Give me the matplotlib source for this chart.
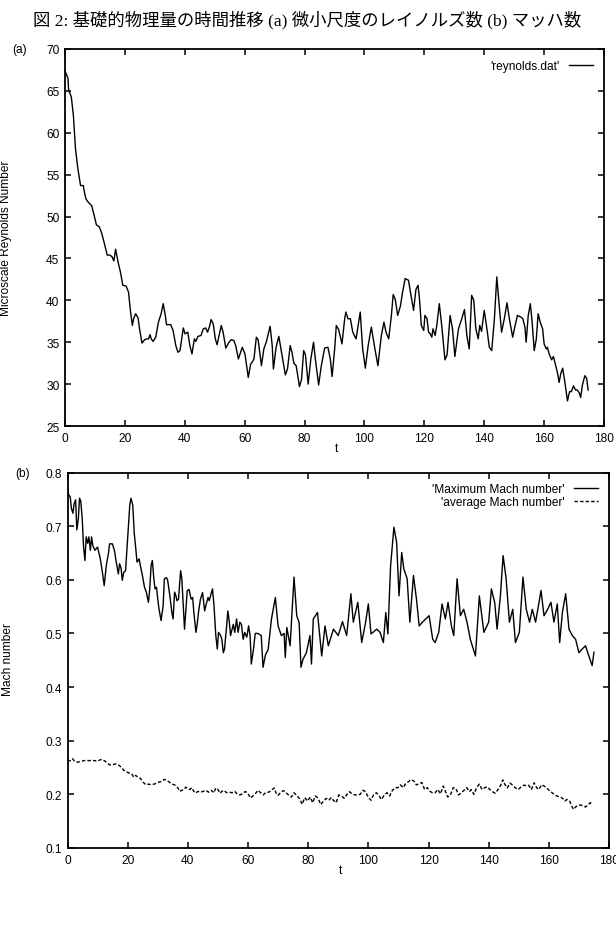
import matplotlib
matplotlib.use("Agg")
import matplotlib.pyplot as plt

# ---- data ----
re_t = [0.0, 1.0, 1.2, 2.1, 2.8, 3.5, 4.3, 5.2, 6.1, 6.5, 7.0, 7.8, 8.9, 9.7, 10.5, 11.4, 12.1,
        13.0, 14.1, 15.0, 15.7, 16.3, 16.9, 17.7, 18.5, 19.3, 20.4, 21.2, 21.9, 22.5, 22.9, 23.6,
        24.4, 24.9, 25.7, 26.6, 27.3, 27.9, 28.4, 28.8, 29.4, 30.3, 31.2, 32.1, 32.8, 33.5, 33.9,
        35.3, 36.1, 37.0, 37.7, 38.4, 39.5, 40.1, 41.0, 41.7, 42.4, 43.2, 43.7, 44.4, 45.4, 46.2,
        47.0, 47.6, 48.2, 48.8, 49.5, 50.2, 50.8, 51.5, 52.2, 52.8, 53.7, 54.6, 55.5, 56.4, 57.0,
        57.9, 59.2, 60.1, 61.2, 62.0, 62.5, 63.1, 63.9, 64.5, 65.6, 66.4, 67.2, 67.6, 68.5, 69.2,
        69.6, 70.5, 71.4, 72.5, 73.6, 74.3, 75.2, 75.8, 76.4, 77.2, 78.3, 79.0, 79.7, 80.3, 81.2,
        82.1, 83.0, 83.6, 84.7, 85.6, 86.7, 87.8, 88.6, 89.2, 90.1, 90.6, 91.4, 92.5, 93.4, 93.8,
        94.5, 95.3, 96.1, 97.2, 97.9, 98.6, 99.4, 100.3, 101.2, 102.3, 103.4, 104.5, 105.6, 106.5,
        107.2, 108.1, 109.0, 109.6, 110.3, 111.1, 112.0, 112.7, 113.6, 114.7, 115.6, 116.4, 117.2,
        117.9, 118.4, 119.0, 119.8, 120.2, 120.9, 121.4, 122.0, 122.5, 122.9, 123.6, 124.2, 125.0,
        125.8, 126.9, 127.6, 128.6, 129.4, 130.2, 131.4, 132.5, 133.4, 134.2, 135.0, 135.8, 136.5,
        137.2, 138.0, 138.5, 139.1, 140.0, 140.9, 141.7, 142.5, 143.4, 144.2, 145.0, 145.8, 146.7,
        147.6, 148.4, 149.5, 150.2, 151.1, 152.2, 152.9, 153.6, 154.0, 154.7, 155.4, 156.0, 156.7,
        157.4, 158.0, 158.7, 159.5, 160.0, 160.7, 161.1, 161.7, 162.5, 163.1, 163.8, 164.5, 165.0,
        165.6, 166.2, 166.9, 167.8, 168.5, 169.1, 169.8, 170.5, 171.1, 171.8, 172.2, 172.8, 173.6,
        174.2, 174.7]
re_val = [67.4, 66.5, 65.1, 64.3, 62.1, 58.1, 55.7, 53.7, 53.7, 52.9, 52.1, 51.7, 51.3, 50.2, 49.0,
          48.8, 48.2, 47.0, 45.4, 45.4, 45.2, 44.7, 46.1, 44.6, 43.4, 41.8, 41.7, 41.0, 38.6, 37.0,
          37.8, 38.4, 37.9, 36.6, 34.9, 35.3, 35.4, 35.4, 35.9, 35.4, 35.1, 35.6, 37.4, 38.4, 39.6,
          38.2, 37.1, 37.1, 36.4, 34.6, 33.8, 34.0, 36.7, 36.0, 36.2, 34.6, 33.6, 35.4, 35.1, 35.7,
          35.8, 36.6, 36.7, 36.2, 36.8, 37.7, 37.2, 35.4, 34.7, 35.9, 37.0, 36.2, 34.3, 34.9, 35.3,
          35.2, 34.6, 33.0, 34.4, 33.6, 30.8, 32.4, 32.6, 33.0, 35.6, 35.3, 32.2, 34.2, 35.0, 35.6,
          36.9, 34.6, 31.8, 34.4, 35.7, 33.4, 31.1, 31.8, 34.6, 33.8, 32.5, 32.2, 29.7, 30.6, 34.0,
          33.5, 30.0, 33.0, 35.0, 33.0, 29.9, 32.2, 34.3, 34.4, 33.0, 30.9, 34.4, 37.0, 36.5, 34.8,
          37.8, 38.6, 37.8, 37.8, 36.2, 35.4, 37.0, 38.6, 34.2, 31.9, 34.5, 36.8, 34.4, 32.2, 35.7,
          37.4, 36.2, 35.4, 38.2, 40.7, 40.1, 38.2, 39.3, 40.9, 42.6, 42.4, 40.5, 38.8, 41.3, 41.8,
          40.1, 37.0, 36.4, 38.2, 37.8, 36.2, 36.0, 35.6, 36.6, 35.8, 37.1, 39.6, 37.0, 32.9, 33.5,
          38.2, 36.6, 33.3, 36.6, 37.8, 38.9, 35.8, 34.2, 40.6, 40.0, 36.6, 35.4, 37.0, 36.3, 38.8,
          36.6, 34.4, 34.0, 37.8, 42.8, 39.4, 36.2, 37.8, 39.7, 37.8, 35.6, 36.8, 38.2, 38.0, 37.8,
          36.8, 35.0, 38.2, 39.6, 37.4, 34.0, 35.4, 38.4, 37.4, 36.6, 34.8, 34.2, 34.4, 33.6, 32.9,
          33.3, 32.3, 31.3, 30.2, 31.3, 31.9, 30.3, 28.0, 29.1, 29.1, 29.8, 29.3, 29.3, 28.9, 28.4,
          29.9, 31.0, 30.7, 29.3]

mmax_t = [0.0, 0.4, 0.9, 1.3, 1.8, 2.2, 2.7, 3.1, 3.6, 4.0, 4.4, 4.9, 5.3, 5.8, 6.2, 6.7, 7.1, 7.6,
          8.0, 8.4, 9.1, 10.0, 10.9, 11.6, 12.2, 12.9, 13.6, 14.0, 14.9, 15.6, 16.2, 16.9, 17.3,
          17.8, 18.2, 18.7, 19.3, 20.0, 20.7, 21.1, 21.7, 22.2, 22.7, 23.1, 23.8, 24.2, 24.9, 25.6,
          26.2, 26.9, 27.3, 27.8, 28.2, 28.7, 29.1, 29.6, 30.0, 30.4, 31.1, 31.8, 32.2, 32.9, 33.3,
          34.0, 34.7, 35.1, 35.6, 36.0, 36.4, 36.9, 37.6, 38.0, 38.4, 38.9, 39.3, 39.8, 40.4, 41.1,
          41.6, 42.0, 42.7, 43.1, 43.6, 44.2, 44.9, 45.6, 46.0, 46.7, 47.1, 47.6, 48.2, 48.7, 49.3,
          49.8, 50.2, 50.9, 51.3, 51.8, 52.2, 52.9, 53.3, 53.8, 54.2, 54.7, 55.1, 55.6, 56.2, 56.7,
          57.3, 57.8, 58.4, 58.9, 59.6, 60.2, 60.7, 61.1, 61.8, 62.4, 63.3, 64.4, 65.0, 65.8, 66.7,
          67.8, 69.1, 70.0, 71.1, 72.0, 72.4, 72.9, 74.0, 75.3, 76.2, 77.0, 77.6, 78.3, 79.4, 80.6,
          81.1, 81.7, 83.1, 84.5, 85.6, 86.7, 88.4, 90.0, 91.4, 92.8, 94.2, 95.0, 96.5, 97.8, 99.1,
          100.0, 100.9, 102.8, 103.9, 105.0, 105.8, 106.5, 107.4, 108.5, 109.4, 110.2, 111.1, 111.8,
          112.9, 113.8, 115.0, 116.0, 116.9, 118.0, 119.1, 120.2, 121.4, 122.2, 123.4, 124.5, 125.6,
          126.5, 127.6, 128.4, 129.5, 130.6, 131.7, 132.8, 133.9, 135.6, 136.9, 138.4, 140.0, 140.9,
          142.0, 142.8, 143.9, 144.8, 145.8, 146.9, 148.0, 148.9, 150.2, 151.4, 152.5, 153.6, 154.5,
          155.6, 157.4, 158.4, 159.6, 160.7, 161.7, 162.8, 163.6, 164.5, 165.6, 166.7, 167.8, 168.9,
          170.0, 171.1, 172.2, 173.3, 174.4, 175.0]
mmax_val = [0.774, 0.758, 0.755, 0.733, 0.724, 0.742, 0.749, 0.693, 0.714, 0.752, 0.747, 0.714,
            0.664, 0.636, 0.680, 0.668, 0.680, 0.655, 0.680, 0.664, 0.655, 0.661, 0.639, 0.614,
            0.589, 0.627, 0.649, 0.667, 0.667, 0.655, 0.633, 0.611, 0.630, 0.622, 0.599, 0.614,
            0.617, 0.677, 0.739, 0.752, 0.739, 0.686, 0.658, 0.633, 0.639, 0.627, 0.608, 0.586,
            0.577, 0.558, 0.580, 0.627, 0.636, 0.602, 0.583, 0.586, 0.564, 0.546, 0.524, 0.552,
            0.602, 0.604, 0.599, 0.571, 0.539, 0.527, 0.577, 0.571, 0.561, 0.564, 0.617, 0.602,
            0.561, 0.508, 0.539, 0.580, 0.582, 0.564, 0.567, 0.539, 0.502, 0.517, 0.542, 0.564,
            0.576, 0.542, 0.552, 0.567, 0.561, 0.571, 0.583, 0.552, 0.496, 0.471, 0.502, 0.496,
            0.489, 0.464, 0.471, 0.514, 0.542, 0.521, 0.496, 0.508, 0.517, 0.502, 0.527, 0.502,
            0.521, 0.517, 0.489, 0.502, 0.493, 0.514, 0.496, 0.443, 0.470, 0.500, 0.500, 0.496,
            0.437, 0.460, 0.470, 0.527, 0.567, 0.514, 0.496, 0.500, 0.455, 0.511, 0.477, 0.605,
            0.533, 0.520, 0.437, 0.452, 0.464, 0.496, 0.443, 0.527, 0.539, 0.458, 0.514, 0.477,
            0.508, 0.496, 0.522, 0.496, 0.574, 0.521, 0.558, 0.483, 0.521, 0.555, 0.499, 0.508,
            0.502, 0.483, 0.539, 0.499, 0.626, 0.698, 0.670, 0.570, 0.651, 0.620, 0.602, 0.521,
            0.608, 0.564, 0.514, 0.521, 0.527, 0.533, 0.489, 0.483, 0.502, 0.555, 0.527, 0.558,
            0.514, 0.496, 0.602, 0.533, 0.545, 0.521, 0.489, 0.458, 0.570, 0.502, 0.521, 0.583,
            0.558, 0.508, 0.570, 0.645, 0.602, 0.521, 0.545, 0.483, 0.502, 0.605, 0.545, 0.521,
            0.545, 0.521, 0.580, 0.533, 0.545, 0.558, 0.521, 0.555, 0.483, 0.539, 0.574, 0.508,
            0.496, 0.489, 0.464, 0.471, 0.477, 0.458, 0.440, 0.465]

mavg_t = [0.0, 0.9, 1.7, 2.4, 3.3, 4.4, 5.6, 6.7, 7.8, 8.9, 10.0, 11.1, 12.2, 13.1, 14.0, 15.0,
          16.1, 16.9, 17.8, 18.7, 19.6, 20.4, 21.3, 22.0, 22.7, 23.3, 24.2, 25.1, 26.0, 26.9, 27.8,
          28.7, 29.6, 30.4, 31.3, 32.2, 33.1, 34.0, 34.9, 35.8, 36.7, 37.3, 38.0, 38.7, 39.3, 40.0,
          40.7, 41.3, 42.0, 42.7, 43.3, 44.2, 45.1, 46.0, 46.9, 47.8, 48.7, 49.3, 50.0, 50.7, 51.3,
          52.0, 52.9, 53.8, 54.7, 55.6, 56.4, 57.3, 58.2, 59.1, 60.0, 60.9, 61.6, 62.4, 63.3, 64.2,
          65.1, 66.0, 66.9, 67.8, 68.7, 69.3, 70.0, 70.9, 71.8, 72.7, 73.6, 74.4, 75.3, 76.2, 77.3,
          78.0, 78.9, 79.8, 80.7, 81.5, 82.4, 83.3, 84.2, 85.1, 86.0, 86.9, 87.6, 88.4, 89.3, 90.2,
          91.1, 92.0, 92.9, 93.8, 94.7, 95.6, 96.4, 97.3, 98.2, 99.1, 100.0, 100.9, 101.8, 102.7,
          103.6, 104.4, 105.3, 106.2, 107.1, 108.0, 108.9, 109.8, 110.7, 111.6, 112.4, 113.3, 114.2,
          115.1, 116.0, 116.9, 117.8, 118.7, 119.6, 120.4, 121.3, 122.2, 123.1, 124.0, 124.9, 125.6,
          126.4, 127.3, 128.2, 129.1, 130.0, 130.9, 131.8, 132.7, 133.6, 134.2, 135.1, 136.0, 136.9,
          137.8, 138.7, 139.6, 140.4, 141.3, 142.2, 143.1, 144.0, 144.7, 145.3, 146.2, 147.1, 148.0,
          148.9, 149.8, 150.7, 151.6, 152.4, 153.3, 154.2, 155.1, 156.0, 156.7, 157.6, 158.4, 159.3,
          160.2, 161.1, 162.0, 162.9, 163.8, 164.7, 165.3, 166.0, 166.9, 167.6, 168.2, 168.9, 169.8,
          170.7, 171.6, 172.2, 172.9, 173.8, 174.4]
mavg_val = [0.2615, 0.263, 0.2665, 0.2615, 0.260, 0.2615, 0.263, 0.263, 0.263, 0.263, 0.262, 0.265,
            0.263, 0.259, 0.255, 0.255, 0.257, 0.255, 0.251, 0.245, 0.242, 0.240, 0.2385, 0.232,
            0.2355, 0.232, 0.230, 0.223, 0.218, 0.219, 0.218, 0.219, 0.2205, 0.223, 0.224, 0.228,
            0.226, 0.222, 0.219, 0.217, 0.212, 0.2055, 0.2075, 0.209, 0.2135, 0.2105, 0.209,
            0.2125, 0.2055, 0.2025, 0.2055, 0.204, 0.2055, 0.2075, 0.204, 0.2075, 0.203, 0.212,
            0.209, 0.202, 0.2055, 0.2075, 0.203, 0.204, 0.203, 0.2055, 0.201, 0.199, 0.201, 0.2055,
            0.201, 0.193, 0.197, 0.201, 0.2075, 0.203, 0.199, 0.204, 0.204, 0.2075, 0.212, 0.203,
            0.198, 0.204, 0.207, 0.203, 0.198, 0.195, 0.203, 0.198, 0.191, 0.1815, 0.194, 0.1875,
            0.195, 0.1845, 0.197, 0.1925, 0.181, 0.1875, 0.1925, 0.189, 0.194, 0.189, 0.1845, 0.199,
            0.197, 0.1925, 0.200, 0.205, 0.200, 0.199, 0.199, 0.200, 0.2075, 0.205, 0.194, 0.189,
            0.200, 0.203, 0.197, 0.1905, 0.199, 0.203, 0.197, 0.2075, 0.2125, 0.2125, 0.2175,
            0.2125, 0.220, 0.2235, 0.2275, 0.225, 0.2175, 0.220, 0.222, 0.209, 0.2125, 0.206, 0.203,
            0.203, 0.209, 0.201, 0.2155, 0.206, 0.195, 0.199, 0.2125, 0.211, 0.199, 0.203, 0.2075,
            0.2125, 0.205, 0.209, 0.200, 0.2125, 0.219, 0.209, 0.2125, 0.214, 0.209, 0.205, 0.202,
            0.209, 0.217, 0.227, 0.2195, 0.212, 0.221, 0.217, 0.212, 0.209, 0.2135, 0.217, 0.2165,
            0.217, 0.209, 0.2215, 0.212, 0.209, 0.218, 0.2155, 0.212, 0.207, 0.203, 0.1985, 0.1965,
            0.195, 0.192, 0.1875, 0.1905, 0.1875, 0.178, 0.172, 0.1765, 0.180, 0.180, 0.178, 0.1765,
            0.180, 0.1845, 0.1815]

x_ticks = list(range(0, 181, 20))
re_ticks = list(range(25, 71, 5))
mach_ticks = [0.1, 0.2, 0.3, 0.4, 0.5, 0.6, 0.7, 0.8]

TITLE = "図 2: 基礎的物理量の時間推移 (a) 微小尺度のレイノルズ数 (b) マッハ数"

FS = 8.6
plt.rcParams["font.family"] = ["Liberation Sans", "DejaVu Sans"]
plt.rcParams["font.size"] = FS

W, H = 616, 928
fig = plt.figure(figsize=(W / 100, H / 100), dpi=100)


def frame(ax, yticks):
    """gnuplot look: inward ticks on all four sides, no grid."""
    ax.set_xlim(0, 180)
    ax.set_xticks(x_ticks)
    ax.set_yticks(yticks)
    ax.tick_params(direction="in", length=4.5, width=1.1, top=True, right=True,
                   labeltop=False, labelright=False, pad=4, labelsize=FS)
    for s in ax.spines.values():
        s.set_linewidth(1.3)


# ---- (a) microscale Reynolds number ----
ax1 = fig.add_axes([65 / W, 1 - 427 / H, 539 / W, 377 / H])
ax1.plot(re_t, re_val, color="black", lw=1.0, label="'reynolds.dat'")
ax1.set_ylim(25, 70)
frame(ax1, re_ticks)
ax1.legend(loc="upper right", frameon=False, markerfirst=False, handlelength=2.0,
           handletextpad=0.8, fontsize=FS, borderaxespad=0.5)

# ---- (b) Mach number ----
ax2 = fig.add_axes([67.5 / W, 1 - 849 / H, 541.5 / W, 375.5 / H])
ax2.plot(mmax_t, mmax_val, color="black", lw=1.0, label="'Maximum Mach number'")
ax2.plot(mavg_t, mavg_val, color="black", lw=1.0, ls=(0, (2.5, 1.5)),
         label="'average Mach number'")
ax2.set_ylim(0.1, 0.8)
frame(ax2, mach_ticks)
ax2.yaxis.set_major_formatter(matplotlib.ticker.FormatStrFormatter("%.1f"))
ax2.legend(loc="upper right", frameon=False, markerfirst=False, handlelength=2.0,
           handletextpad=0.8, fontsize=FS, borderaxespad=0.5, labelspacing=0.05)

# ---- labels placed as in the scan ----
fig.text(307 / W, 1 - 20 / H, TITLE, ha="center", va="center", fontsize=12.5,
         family=["Liberation Serif", "Noto Sans CJK JP"])
fig.text(12 / W, 1 - 50 / H, "(a)", ha="left", va="center", fontsize=FS)
fig.text(15 / W, 1 - 474 / H, "(b)", ha="left", va="center", fontsize=FS)
fig.text(6 / W, 1 - 238 / H, "Microscale Reynolds Number", rotation=90,
         ha="center", va="center", fontsize=FS)
fig.text(8 / W, 1 - 660 / H, "Mach number", rotation=90, ha="center", va="center",
         fontsize=FS)
fig.text(337 / W, 1 - 449 / H, "t", ha="center", va="center", fontsize=FS)
fig.text(341 / W, 1 - 871 / H, "t", ha="center", va="center", fontsize=FS)

fig.savefig("out.png", dpi=100)
